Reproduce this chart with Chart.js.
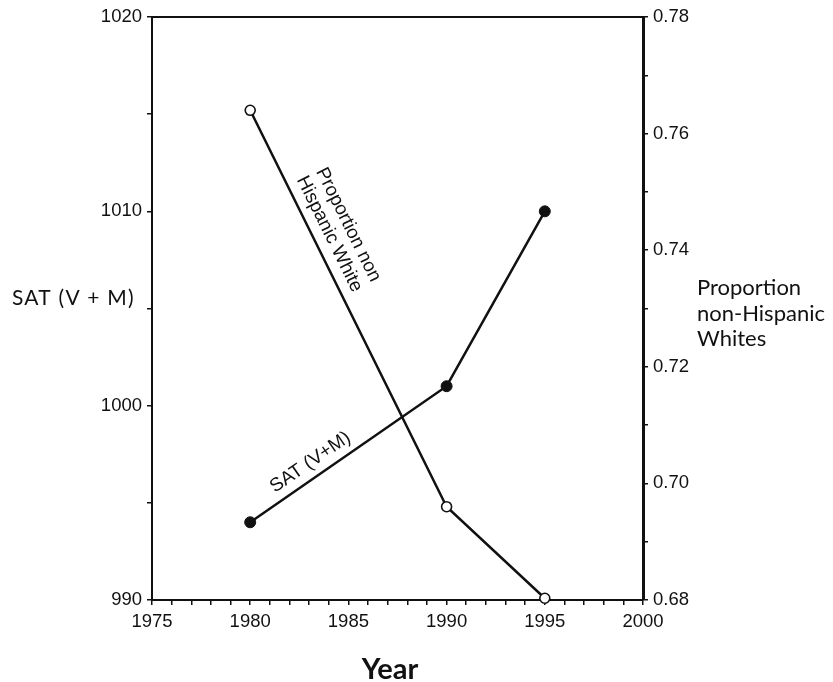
<!DOCTYPE html>
<html>
<head>
<meta charset="utf-8">
<script src="https://cdn.jsdelivr.net/npm/chart.js@4"></script>
<style>
  html, body { margin: 0; padding: 0; background: #fff; }
  #chart { display: block; }
</style>
</head>
<body>
<canvas id="chart" width="833" height="682"></canvas>
<script>
// data
const years = [1980, 1990, 1995];
const satScores = [994, 1001, 1010];
const propWhite = [0.764, 0.696, 0.6803];

// labelled ticks (the rest are unlabelled minor ticks)
const yearLabels = [1975, 1980, 1985, 1990, 1995, 2000];
const satLabels = [990, 1000, 1010, 1020];
const propLabels = ['0.68', '0.70', '0.72', '0.74', '0.76', '0.78'];

const satTitle = 'SAT (V + M)';
const propTitle = ['Proportion', 'non-Hispanic', 'Whites'];
const xTitle = 'Year';

const ink = '#111';
const tickFont = { family: "'Liberation Sans', Arial, sans-serif", size: 18.5 };

// text written along a segment of a line
function textAlong(ctx, xs, ys, p, q, frac, offsets, lines) {
  const x0 = xs.getPixelForValue(p[0]), y0 = ys.getPixelForValue(p[1]);
  const x1 = xs.getPixelForValue(q[0]), y1 = ys.getPixelForValue(q[1]);
  const a = Math.atan2(y1 - y0, x1 - x0);
  ctx.save();
  ctx.translate(x0 + (x1 - x0) * frac, y0 + (y1 - y0) * frac);
  ctx.rotate(a);
  ctx.textAlign = 'center';
  ctx.textBaseline = 'middle';
  lines.forEach((t, i) => ctx.fillText(t, 0, -offsets[i]));
  ctx.restore();
}

const annotations = {
  id: 'annotations',
  afterDraw(chart) {
    const { ctx, chartArea, scales } = chart;
    ctx.save();
    // top frame
    ctx.strokeStyle = ink;
    ctx.lineWidth = 2;
    ctx.beginPath();
    ctx.moveTo(chartArea.left - 1, chartArea.top);
    ctx.lineTo(chartArea.right + 1, chartArea.top);
    ctx.stroke();

    // axis titles, written horizontally
    ctx.fillStyle = ink;
    ctx.textBaseline = 'alphabetic';
    ctx.textAlign = 'left';
    ctx.font = "21px Lato, 'Open Sans', sans-serif";
    ctx.letterSpacing = '1.2px';
    ctx.fillText(satTitle, 12, 305);
    ctx.letterSpacing = '0px';
    ctx.font = "22px Lato, 'Open Sans', sans-serif";
    propTitle.forEach((t, i) => ctx.fillText(t, 697, 295 + i * 25.5));
    ctx.font = "bold 29px Lato, 'Open Sans', sans-serif";
    ctx.textAlign = 'center';
    ctx.fillText(xTitle, 390, 679);

    // in-plot labels
    ctx.font = "19px 'Liberation Sans', Arial, sans-serif";
    textAlong(ctx, scales.x, scales.y2,
      [years[0], propWhite[0]], [years[1], propWhite[1]],
      0.33, [37, 16], ['Proportion non', 'Hispanic White']);
    textAlong(ctx, scales.x, scales.y,
      [years[0], satScores[0]], [years[1], satScores[1]],
      0.35, [15], ['SAT (V+M)']);
    ctx.restore();
  }
};

function axisStyle(borderWidth) {
  return {
    border: { display: true, color: ink, width: borderWidth },
    grid: { drawOnChartArea: false, drawTicks: true, tickLength: 5, color: ink, lineWidth: 1.5 }
  };
}

new Chart(document.getElementById('chart').getContext('2d'), {
  type: 'line',
  data: {
    datasets: [
      {
        label: 'SAT (V+M)',
        data: years.map((yr, i) => ({ x: yr, y: satScores[i] })),
        yAxisID: 'y',
        borderColor: ink,
        borderWidth: 2.5,
        pointRadius: 5.5,
        pointBackgroundColor: ink,
        pointBorderColor: ink,
        pointBorderWidth: 1,
        clip: false
      },
      {
        label: 'Proportion non-Hispanic Whites',
        data: years.map((yr, i) => ({ x: yr, y: propWhite[i] })),
        yAxisID: 'y2',
        borderColor: ink,
        borderWidth: 2.5,
        pointRadius: 5,
        pointBackgroundColor: '#fff',
        pointBorderColor: ink,
        pointBorderWidth: 1.6,
        clip: false
      }
    ]
  },
  options: {
    responsive: false,
    animation: false,
    layout: { padding: { top: 17, left: 0, right: 0, bottom: 0 } },
    plugins: {
      legend: { display: false },
      tooltip: { enabled: false }
    },
    scales: {
      x: {
        type: 'linear',
        position: 'bottom',
        min: 1975,
        max: 2000,
        ...axisStyle(2),
        ticks: {
          stepSize: 1,
          maxTicksLimit: 100,
          autoSkip: false,
          maxRotation: 0,
          padding: 6,
          color: ink,
          font: tickFont,
          callback: v => yearLabels.includes(v) ? String(v) : ''
        },
        afterFit: s => { s.height = 82; }
      },
      y: {
        type: 'linear',
        position: 'left',
        min: 990,
        max: 1020,
        ...axisStyle(2),
        ticks: {
          stepSize: 5,
          autoSkip: false,
          padding: 5,
          color: ink,
          font: tickFont,
          callback: v => satLabels.includes(v) ? String(v) : ''
        },
        afterFit: s => { s.width = 152; }
      },
      y2: {
        type: 'linear',
        position: 'right',
        min: 0.68,
        max: 0.78,
        ...axisStyle(3),
        ticks: {
          stepSize: 0.01,
          autoSkip: false,
          padding: 5,
          color: ink,
          font: tickFont,
          callback: v => propLabels.includes(v.toFixed(2)) ? v.toFixed(2) : ''
        },
        afterFit: s => { s.width = 190; }
      }
    }
  },
  plugins: [annotations]
});
</script>
</body>
</html>
